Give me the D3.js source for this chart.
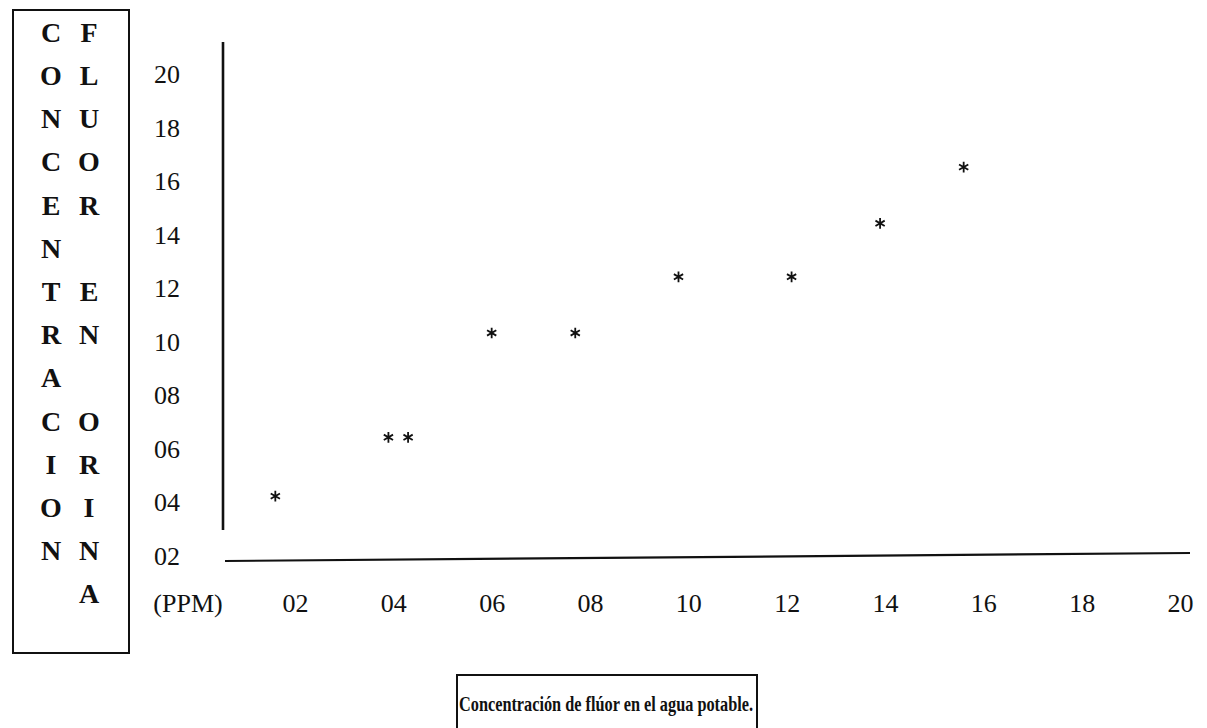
<!DOCTYPE html>
<html>
<head>
<meta charset="utf-8">
<script src="https://cdn.jsdelivr.net/npm/d3@7"></script>
<style>
body { margin: 0; background: #fff; }
svg { display: block; }
text { font-family: "Liberation Serif", "Times New Roman", serif; fill: #111; }
</style>
</head>
<body>
<svg id="chart" width="1207" height="728"></svg>
<script>
// Fluor en el agua potable (ppm) vs fluor en orina
var fluorAgua  = [1.6, 3.9, 4.3, 6.0, 7.7, 9.8, 12.1, 13.9, 15.6];
var fluorOrina = [4.2, 6.4, 6.4, 10.3, 10.3, 12.4, 12.4, 14.4, 16.5];

var xTicks = [2, 4, 6, 8, 10, 12, 14, 16, 18, 20];
var yTicks = [2, 4, 6, 8, 10, 12, 14, 16, 18, 20];

// vertical title, two columns of letters
var colConcentracion = "CONCENTRACION".split("");
var colFluorOrina = ["F", "L", "U", "O", "R", "", "E", "N", "", "O", "R", "I", "N", "A"];
var unitLabel = "(PPM)";
var caption = "Concentración de flúor en el agua potable.";

var svg = d3.select("#chart");

var x = d3.scaleLinear().domain([2, 20]).range([295, 1180]);
var y = d3.scaleLinear().domain([2, 20]).range([555, 73.5]);
var fmt = d3.format("02d");

// ---- left box with the vertical title ----
svg.append("rect")
	.attr("x", 13).attr("y", 10)
	.attr("width", 116).attr("height", 643)
	.style("fill", "none").style("stroke", "#111").style("stroke-width", 2);

var rowY = function(i) { return 32 + i * 43.2 };

svg.append("g").selectAll("text")
	.data(colConcentracion).enter()
	.append("text")
	.attr("x", 51)
	.attr("y", function(d, i) { return rowY(i) })
	.attr("dy", "0.35em")
	.attr("text-anchor", "middle")
	.style("font-size", "28px").style("font-weight", "bold")
	.text(function(d) { return d });

svg.append("g").selectAll("text")
	.data(colFluorOrina).enter()
	.append("text")
	.attr("x", 89)
	.attr("y", function(d, i) { return rowY(i) })
	.attr("dy", "0.35em")
	.attr("text-anchor", "middle")
	.style("font-size", "28px").style("font-weight", "bold")
	.text(function(d) { return d });

// ---- y axis ----
var yAxis = svg.append("g")
	.attr("transform", "translate(223,0)")
	.call(d3.axisLeft(y).tickValues(yTicks).tickSize(0).tickFormat(fmt));
yAxis.select(".domain").remove();
yAxis.selectAll("text")
	.attr("x", -56).attr("dy", "0.35em")
	.attr("text-anchor", "middle")
	.style("font-size", "26px").style("fill", "#111")
	.style("font-family", "'Liberation Serif', serif");

svg.append("line")
	.attr("x1", 223).attr("x2", 223)
	.attr("y1", 42).attr("y2", 530)
	.style("stroke", "#111").style("stroke-width", 2.6);

// ---- x axis ----
var xAxis = svg.append("g")
	.attr("transform", "translate(0,558)")
	.call(d3.axisBottom(x).tickValues(xTicks).tickSize(0).tickFormat(fmt));
xAxis.select(".domain").remove();
xAxis.selectAll("text")
	.attr("y", 45).attr("dy", "0.35em")
	.style("font-size", "26px").style("fill", "#111")
	.style("font-family", "'Liberation Serif', serif");

svg.append("line")
	.attr("x1", 225).attr("x2", 1190)
	.attr("y1", 561).attr("y2", 553)
	.style("stroke", "#111").style("stroke-width", 2.2);

svg.append("text")
	.attr("x", 188).attr("y", 603)
	.attr("dy", "0.35em")
	.attr("text-anchor", "middle")
	.style("font-size", "26px")
	.text(unitLabel);

// ---- points ----
var star = d3.symbol().type(d3.symbolAsterisk).size(80);

svg.append("g").selectAll("path")
	.data(fluorAgua).enter()
	.append("path")
	.attr("d", star)
	.attr("transform", function(d, i) { return "translate(" + x(d) + "," + y(fluorOrina[i]) + ")" })
	.style("fill", "none").style("stroke", "#111").style("stroke-width", 1.8);

// ---- caption box ----
svg.append("path")
	.attr("d", "M457,728V675H757V728")
	.style("fill", "none").style("stroke", "#111").style("stroke-width", 2);

svg.append("text")
	.attr("x", 459).attr("y", 711)
	.attr("textLength", 294)
	.attr("lengthAdjust", "spacingAndGlyphs")
	.style("font-size", "21px").style("font-weight", "bold")
	.text(caption);
</script>
</body>
</html>
